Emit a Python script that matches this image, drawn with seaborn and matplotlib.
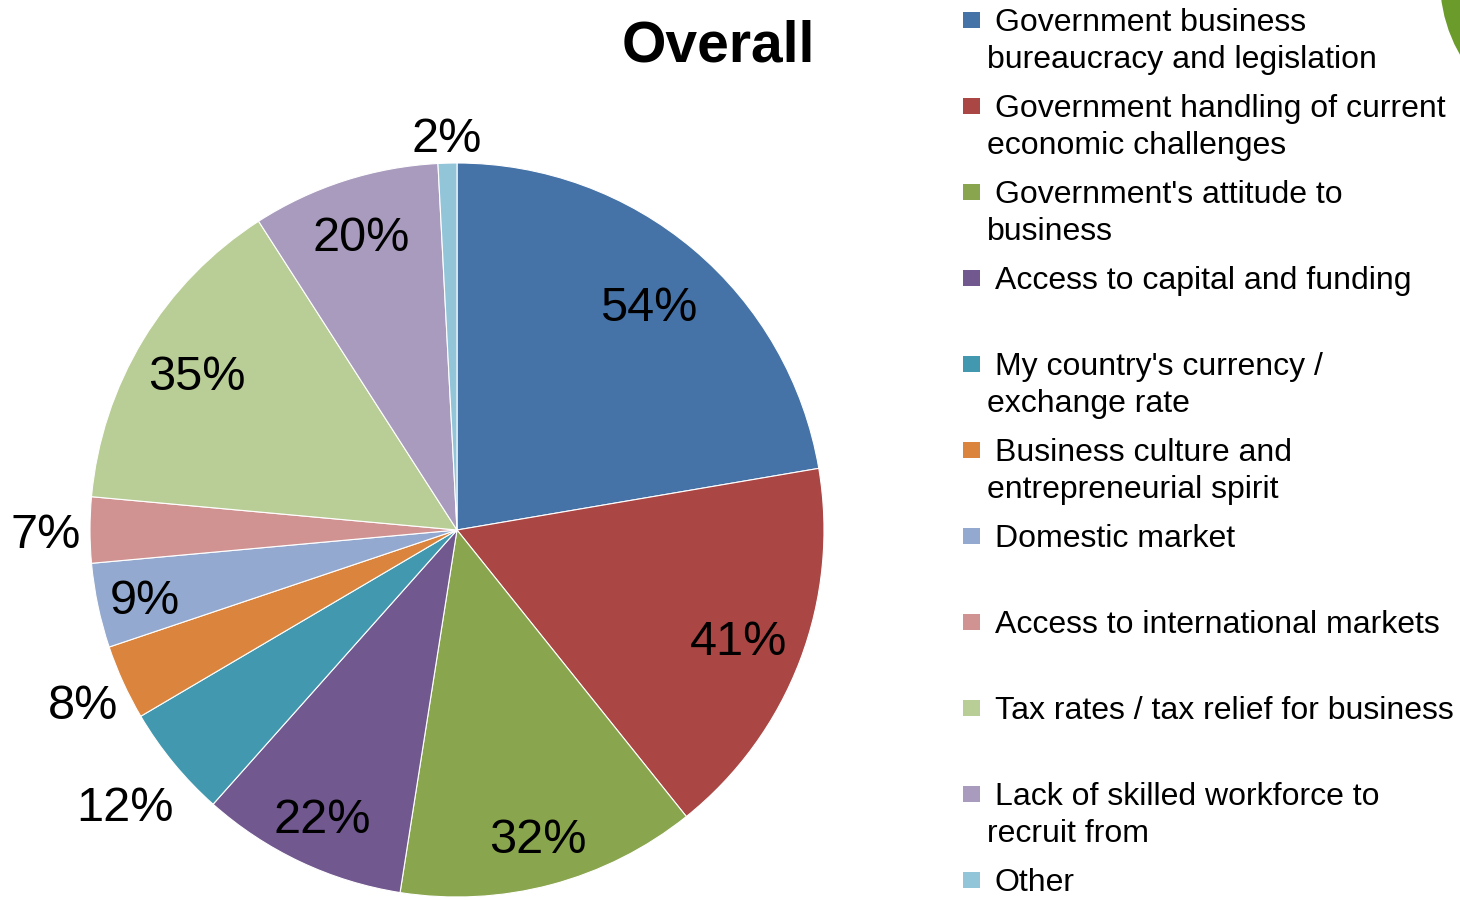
import matplotlib.pyplot as plt
import matplotlib.patches as mpatches
import numpy as np
import seaborn as sns

# data
categories = [
    "Government business\nbureaucracy and legislation",
    "Government handling of current\neconomic challenges",
    "Government's attitude to\nbusiness",
    "Access to capital and funding",
    "My country's currency /\nexchange rate",
    "Business culture and\nentrepreneurial spirit",
    "Domestic market",
    "Access to international markets",
    "Tax rates / tax relief for business",
    "Lack of skilled workforce to\nrecruit from",
    "Other",
]
values = [54, 41, 32, 22, 12, 8, 9, 7, 35, 20, 2]
colors = ['#4572A7', '#AA4643', '#89A54E', '#71588F', '#4198AF', '#DB843D',
          '#93A9CF', '#D19392', '#B9CD96', '#A99BBD', '#92C5D8']

# where each percentage label sits (fraction of radius)
label_dist = [0.81, 0.82, 0.86, 0.86, 1.17, 1.12, 0.87, 1.12, 0.83, 0.85, 1.08]

sns.set_theme(style='white')
plt.rcParams['font.family'] = ['Liberation Sans', 'DejaVu Sans']

fig = plt.figure(figsize=(14.6, 9), dpi=100)
W, H = 1460, 900
cx, cy, R = 457, 530, 367
ax = fig.add_axes([(cx - R) / W, (H - cy - R) / H, 2 * R / W, 2 * R / H])

wedges, _ = ax.pie(values, colors=colors, startangle=90, counterclock=False,
                   radius=1, wedgeprops=dict(edgecolor='white', linewidth=0.8))
ax.set_xlim(-1, 1)
ax.set_ylim(-1, 1)
ax.set_aspect('equal')
ax.axis('off')

for w, v, d in zip(wedges, values, label_dist):
    ang = np.deg2rad((w.theta1 + w.theta2) / 2)
    ax.annotate(f"{v}%", (d * np.cos(ang), d * np.sin(ang)), xytext=(0, -4),
                textcoords='offset points', ha='center', va='center',
                fontsize=35, color='black', annotation_clip=False)

fig.text(718 / W, 1 - 47 / H, "Overall", ha='center', va='center',
         fontsize=41, fontweight='bold', color='black')

# legend, drawn by hand to keep the hanging indent of the original
for i, (lab, c) in enumerate(zip(categories, colors)):
    y = 20 + 86 * i
    fig.patches.append(mpatches.Rectangle((963 / W, 1 - (y + 8) / H), 17 / W, 16 / H,
                                          transform=fig.transFigure, facecolor=c,
                                          edgecolor='none'))
    lines = lab.split("\n")
    fig.text(995 / W, 1 - (y + 3) / H, lines[0], ha='left', va='center',
             fontsize=23, color='black')
    for j, extra in enumerate(lines[1:]):
        fig.text(987 / W, 1 - (y + 3 + 37 * (j + 1)) / H, extra, ha='left', va='center',
                 fontsize=23, color='black')

# green logo fragment in the corner
fig.patches.append(mpatches.Ellipse((1590 / W, 1 + 20 / H), 300 / W, 300 / H,
                                    transform=fig.transFigure, facecolor='#6b9b2b',
                                    edgecolor='none'))

fig.savefig('out.png', dpi=100, facecolor='white')
